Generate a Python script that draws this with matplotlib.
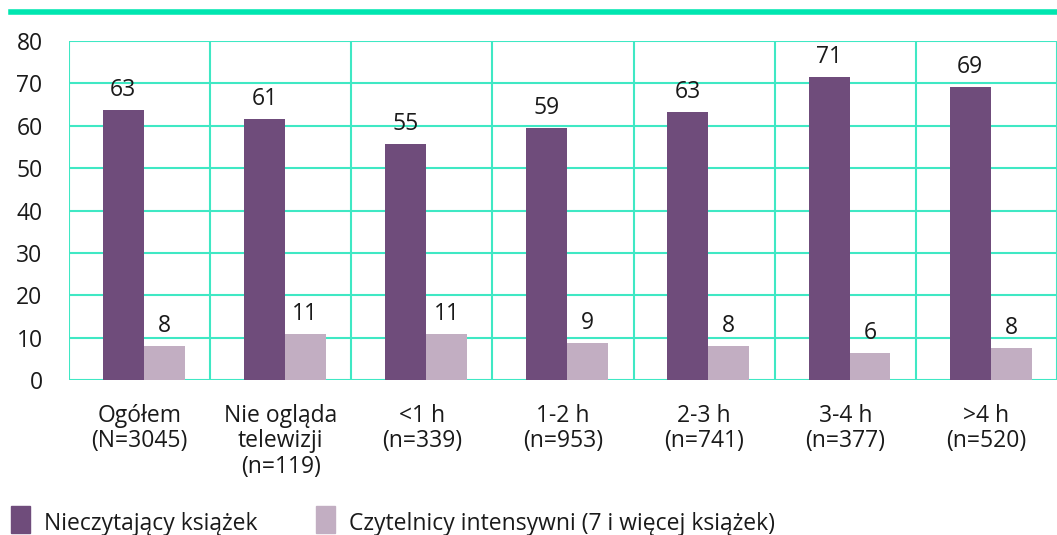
import matplotlib
matplotlib.use('Agg')
import matplotlib.pyplot as plt
from matplotlib.patches import Rectangle
import numpy as np

# Chart data
categories = ['Ogółem\n(N=3045)', 'Nie ogląda\ntelewizji\n(n=119)', '<1 h\n(n=339)',
              '1-2 h\n(n=953)', '2-3 h\n(n=741)', '3-4 h\n(n=377)', '>4 h\n(n=520)']
non_readers = [63.6, 61.5, 55.6, 59.4, 63.2, 71.4, 69.1]
intense_readers = [8.0, 10.8, 10.8, 8.7, 8.0, 6.4, 7.5]
non_readers_labels = [63, 61, 55, 59, 63, 71, 69]
intense_labels = [8, 11, 11, 9, 8, 6, 8]
series_names = ['Nieczytający książek', 'Czytelnicy intensywni (7 i więcej książek)']

DARK = '#6f4c7b'
LIGHT = '#c2aec2'
GRID = '#3fe8c4'
TOP_LINE = '#00e6b0'
TEXT = '#1a1a1a'
FS = 16.5

plt.rcParams['font.family'] = ['Open Sans', 'DejaVu Sans']

fig = plt.figure(figsize=(10.57, 5.35), dpi=100)
ax = fig.add_axes([69 / 1057, 1 - 380 / 535, 988 / 1057, 339 / 535])

x = np.arange(len(categories))
w = 0.29
ax.bar(x - w / 2 + 0.03, non_readers, width=w, color=DARK, zorder=3)
ax.bar(x + w / 2 + 0.03, intense_readers, width=w, color=LIGHT, zorder=3)

for i in range(len(categories)):
    ax.annotate(str(non_readers_labels[i]), (x[i] - w / 2 + 0.03, non_readers[i]),
                xytext=(0, 6), textcoords='offset points', ha='center', va='bottom',
                fontsize=FS, color=TEXT)
    ax.annotate(str(intense_labels[i]), (x[i] + w / 2 + 0.03, intense_readers[i]),
                xytext=(0, 6), textcoords='offset points', ha='center', va='bottom',
                fontsize=FS, color=TEXT)

ax.set_xlim(-0.5, len(categories) - 0.5)
ax.set_ylim(0, 80)
ax.set_yticks(range(0, 81, 10))
ax.set_xticks(x)
ax.set_xticklabels(categories, fontsize=FS, color=TEXT, va='top', linespacing=1.1)
ax.tick_params(axis='y', labelsize=FS, labelcolor=TEXT, length=0, pad=19)
ax.tick_params(axis='x', length=0, pad=17)

# grid: horizontal at ticks, vertical at category boundaries
for yv in range(0, 81, 10):
    ax.axhline(yv, color=GRID, linewidth=1.5, zorder=1)
for xv in np.arange(-0.5, len(categories), 1.0):
    ax.axvline(xv, color=GRID, linewidth=1.5, zorder=1)
for s in ax.spines.values():
    s.set_visible(False)

# top decorative line
fig.add_artist(plt.Line2D([11 / 1057, 1], [1 - 12 / 535, 1 - 12 / 535],
                          color=TOP_LINE, linewidth=4, transform=fig.transFigure))

# legend
for j, (name, col) in enumerate(zip(series_names, [DARK, LIGHT])):
    x0 = [11, 316][j]
    fig.add_artist(Rectangle((x0 / 1057, 1 - 533 / 535), 19 / 1057, 27 / 535,
                             color=col, transform=fig.transFigure))
    fig.text((x0 + 33) / 1057, 1 - 524 / 535, name, fontsize=FS, color=TEXT,
             va='center', ha='left')

fig.savefig('out.png', dpi=100)
